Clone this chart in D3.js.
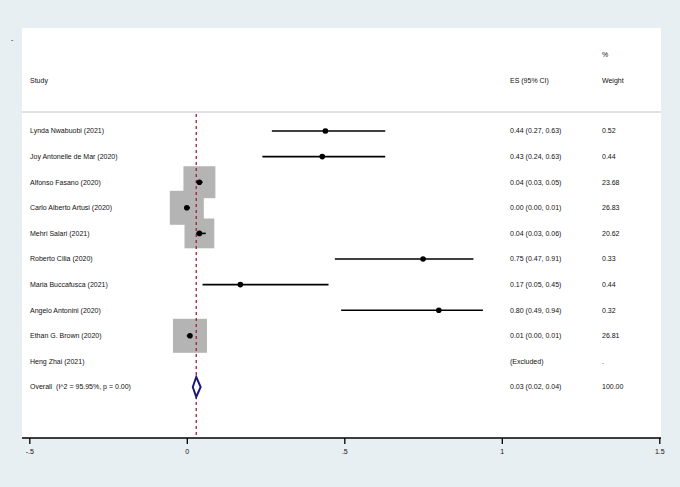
<!DOCTYPE html>
<html><head><meta charset="utf-8">
<script src="https://cdn.jsdelivr.net/npm/d3@7/dist/d3.min.js"></script>
<style>
html,body{margin:0;padding:0;background:#e8eff2;}
svg{display:block;}
text{font-family:"Liberation Sans",Arial,Helvetica,sans-serif;fill:#111;white-space:pre;}
</style></head>
<body>
<script>
const studies = ["Lynda Nwabuobi (2021)","Joy Antonelle de Mar (2020)","Alfonso Fasano (2020)","Carlo Alberto Artusi (2020)","Mehri Salari (2021)","Roberto Cilia (2020)","Maria Buccafusca (2021)","Angelo Antonini (2020)","Ethan G. Brown (2020)","Heng Zhai (2021)"];
const es     = [0.44, 0.43, 0.04, 0.00, 0.04, 0.75, 0.17, 0.80, 0.01, null];
const ciLow  = [0.27, 0.24, 0.03, 0.00, 0.03, 0.47, 0.05, 0.49, 0.00, null];
const ciHigh = [0.63, 0.63, 0.05, 0.01, 0.06, 0.91, 0.45, 0.94, 0.01, null];
const weights = [0.52, 0.44, 23.68, 26.83, 20.62, 0.33, 0.44, 0.32, 26.81, null];
const esLabels = ["0.44 (0.27, 0.63)","0.43 (0.24, 0.63)","0.04 (0.03, 0.05)","0.00 (0.00, 0.01)","0.04 (0.03, 0.06)","0.75 (0.47, 0.91)","0.17 (0.05, 0.45)","0.80 (0.49, 0.94)","0.01 (0.00, 0.01)","(Excluded)"];
const weightLabels = ["0.52","0.44","23.68","26.83","20.62","0.33","0.44","0.32","26.81","."];
const overallLabel = "Overall  (I^2 = 95.95%, p = 0.00)";
const overallES = 0.03, overallLow = 0.019, overallHigh = 0.044;
const overallESLabel = "0.03 (0.02, 0.04)";
const overallWeightLabel = "100.00";
const xTicks = [-0.5, 0, 0.5, 1, 1.5];
const xTickLabels = ["-.5", "0", ".5", "1", "1.5"];

const W = 680, H = 487;
const svg = d3.select("body").append("svg").attr("width", W).attr("height", H);

const panel = {x0: 22, x1: 661, y0: 28, y1: 438};
svg.append("rect").attr("x", panel.x0).attr("y", panel.y0)
  .attr("width", panel.x1 - panel.x0).attr("height", panel.y1 - panel.y0).attr("fill", "#fff");

const x = d3.scaleLinear().domain([-0.5, 1.5]).range([29.3, 659.3]);
const rows = studies.concat(["__overall__"]);
const y = d3.scalePoint().domain(rows).range([131, 387]);
const box = d3.scaleSqrt().domain([0, 26.83]).range([0, 34]);

// stray mark
svg.append("text").attr("x", 11).attr("y", 42).attr("font-size", 7).text("-");

// header
const fs = 7;
svg.append("text").attr("x", 30).attr("y", 80.5).attr("dy", "0.35em").attr("font-size", fs).text("Study");
svg.append("text").attr("x", 510).attr("y", 80.5).attr("dy", "0.35em").attr("font-size", fs).text("ES (95% CI)");
svg.append("text").attr("x", 602).attr("y", 55).attr("dy", "0.35em").attr("font-size", fs).text("%");
svg.append("text").attr("x", 602).attr("y", 80.5).attr("dy", "0.35em").attr("font-size", fs).text("Weight");
svg.append("line").attr("x1", panel.x0).attr("x2", panel.x1).attr("y1", 112).attr("y2", 112)
  .attr("stroke", "#c4c4c4").attr("stroke-width", 1);

const idx = d3.range(studies.length);

// boxes
svg.append("g").selectAll("rect").data(idx.filter(i => es[i] !== null)).join("rect")
  .attr("x", i => x(es[i]) - box(weights[i]) / 2)
  .attr("y", i => y(studies[i]) - box(weights[i]) / 2)
  .attr("width", i => box(weights[i]))
  .attr("height", i => box(weights[i]))
  .attr("fill", "#b4b4b4");

// dashed overall line
svg.append("line").attr("x1", x(overallES)).attr("x2", x(overallES))
  .attr("y1", 114).attr("y2", panel.y1)
  .attr("stroke", "#a01f38").attr("stroke-width", 1.3).attr("stroke-dasharray", "3,3");

// CIs
svg.append("g").selectAll("line").data(idx.filter(i => es[i] !== null)).join("line")
  .attr("x1", i => x(ciLow[i])).attr("x2", i => x(ciHigh[i]))
  .attr("y1", i => y(studies[i])).attr("y2", i => y(studies[i]))
  .attr("stroke", "#000").attr("stroke-width", 1.6);

// points
svg.append("g").selectAll("circle").data(idx.filter(i => es[i] !== null)).join("circle")
  .attr("cx", i => x(es[i])).attr("cy", i => y(studies[i])).attr("r", 2.8).attr("fill", "#000");

// overall diamond
const oy = y("__overall__");
svg.append("path")
  .attr("d", `M${x(overallLow)},${oy} L${x(overallES)},${oy - 10} L${x(overallHigh)},${oy} L${x(overallES)},${oy + 10} Z`)
  .attr("fill", "#fff").attr("stroke", "#1c1a78").attr("stroke-width", 2);

// labels
const lab = svg.append("g").attr("font-size", fs);
idx.forEach(i => {
  const yy = y(studies[i]);
  lab.append("text").attr("x", 30).attr("y", yy).attr("dy", "0.35em").text(studies[i]);
  lab.append("text").attr("x", 510).attr("y", yy).attr("dy", "0.35em").text(esLabels[i]);
  lab.append("text").attr("x", 602).attr("y", yy).attr("dy", "0.35em").text(weightLabels[i]);
});
lab.append("text").attr("x", 30).attr("y", oy).attr("dy", "0.35em").text(overallLabel);
lab.append("text").attr("x", 510).attr("y", oy).attr("dy", "0.35em").text(overallESLabel);
lab.append("text").attr("x", 602).attr("y", oy).attr("dy", "0.35em").text(overallWeightLabel);

// axis
svg.append("line").attr("x1", panel.x0).attr("x2", panel.x1).attr("y1", panel.y1).attr("y2", panel.y1)
  .attr("stroke", "#000").attr("stroke-width", 1.5);
const axis = d3.axisBottom(x).tickValues(xTicks).tickSize(6).tickSizeOuter(0)
  .tickFormat((d, i) => xTickLabels[i]);
const ag = svg.append("g").attr("transform", `translate(0,${panel.y1})`).call(axis);
ag.select(".domain").remove();
ag.selectAll(".tick line").attr("stroke", "#000").attr("stroke-width", 1.3);
ag.selectAll(".tick text").attr("font-size", fs).attr("fill", "#111")
  .attr("font-family", "Liberation Sans, Arial, sans-serif").attr("y", 11);
</script>
</body></html>
